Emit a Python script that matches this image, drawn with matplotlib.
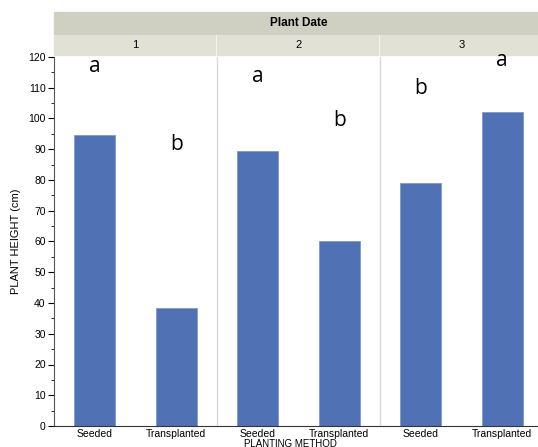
import matplotlib.pyplot as plt
import matplotlib.patches as patches
from matplotlib.ticker import MultipleLocator

plt.rcParams['font.family'] = ['Liberation Sans', 'DejaVu Sans']

# data
dates = ["1", "2", "3"]
methods = ["Seeded", "Transplanted"]
heights = [94.5, 38.4, 89.4, 60.2, 79.0, 102.1]
letters = ["a", "b", "a", "b", "b", "a"]
letter_y = [117, 91.4, 113.8, 99.2, 109.6, 118.7]

bar_color = "#5072b4"
W, H = 538, 447

fig = plt.figure(figsize=(W / 100, H / 100), dpi=100)
ax = fig.add_axes([54 / W, 21 / H, 489 / W, 369 / H])
ax.patch.set_visible(False)

x = list(range(len(heights)))
ax.bar(x, heights, width=0.5, color=bar_color, edgecolor="#7d99cc", linewidth=0.6)

for xi, t, ty in zip(x, letters, letter_y):
    ax.text(xi, ty, t, ha="center", va="center", fontsize=15, zorder=10,
            family=["Open Sans", "DejaVu Sans"])

# panel separators
for sep in [1.5, 3.5]:
    ax.axvline(sep, color="#d8d8d8", lw=1)

ax.set_xlim(-0.5, 5.5)
ax.set_ylim(0, 120)
ax.set_xticks(x)
ax.set_xticklabels(methods * 3, fontsize=7.5)
ax.tick_params(axis="x", length=0, pad=2)
ax.yaxis.set_major_locator(MultipleLocator(10))
ax.yaxis.set_minor_locator(MultipleLocator(5))
ax.tick_params(axis="y", labelsize=7.5, length=4, width=0.8, pad=2)
ax.tick_params(axis="y", which="minor", length=2, width=0.6)
for s in ["top", "right"]:
    ax.spines[s].set_visible(False)
ax.spines["left"].set_color("#555555")
ax.spines["bottom"].set_color("#333333")

ax.set_ylabel("PLANT HEIGHT (cm)", fontsize=8, labelpad=5)
ax.set_xlabel("PLANTING METHOD", fontsize=7, labelpad=0)
ax.xaxis.set_label_coords(0.483, -0.035)

# facet header strips
left = 54 / W
fig.patches.append(patches.Rectangle((left, 1 - 34 / H), 1 - left, 22 / H,
                                     transform=fig.transFigure, color="#d0d0c2", zorder=-1))
fig.text((left + 543 / W) / 2, 1 - 23 / H, "Plant Date", ha="center", va="center",
         fontsize=8.5, fontweight="bold")
panel_w = 163
for i, d in enumerate(dates):
    x0 = 54 + i * panel_w
    fig.patches.append(patches.Rectangle((x0 / W, 1 - 55 / H), (panel_w - 2) / W, 20 / H,
                                         transform=fig.transFigure, color="#e1e1d6", zorder=-1))
    fig.text((x0 + panel_w / 2) / W, 1 - 45 / H, d, ha="center", va="center", fontsize=8)

fig.savefig("out.png", dpi=100)
